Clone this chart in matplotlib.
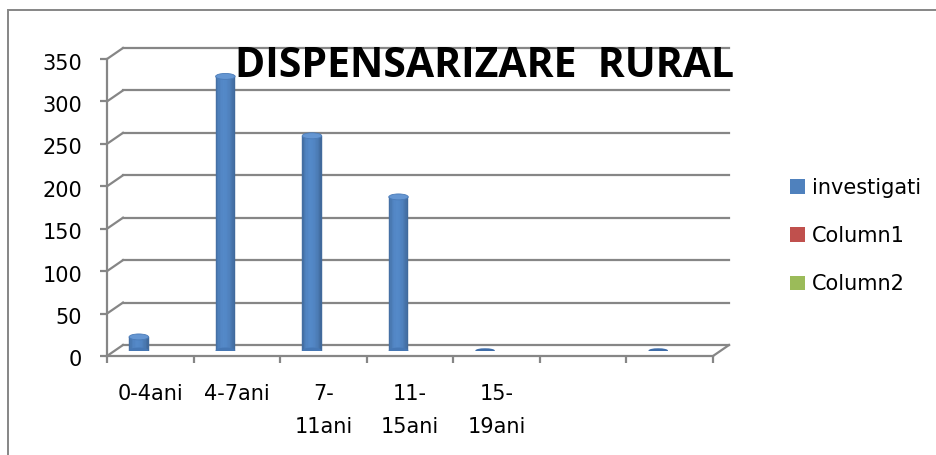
import numpy as np
import matplotlib
matplotlib.use("Agg")
import matplotlib.pyplot as plt
from matplotlib.patches import Patch, Ellipse, Rectangle
from matplotlib.lines import Line2D
from matplotlib.transforms import IdentityTransform, ScaledTranslation
from matplotlib.colors import to_rgb

# ---- data ----
categories = ["0-4ani", "4-7ani", "7-\n11ani", "11-\n15ani", "15-\n19ani", "", ""]
investigati = [16, 323, 253, 181, 0, np.nan, 0]
series_names = ["investigati", "Column1", "Column2"]
series_colors = ["#4F81BD", "#C0504D", "#9BBB59"]
y_ticks = [0, 50, 100, 150, 200, 250, 300, 350]
title = "DISPENSARIZARE  RURAL"

# ---- layout (pixels) ----
W, H = 936, 455
fig = plt.figure(figsize=(W / 100, H / 100), dpi=100)
plt.rcParams['font.family'] = ['DejaVu Sans']

def frac(x0, ytop, x1, ybot):
    return [x0 / W, (H - ybot) / H, (x1 - x0) / W, (ybot - ytop) / H]

GRID = "#868686"
LW = 1.6
FS = 15
n = len(categories)
xlim = (-0.5, n - 0.5)
ylim = (0, 350)

# outer frame
fig.add_artist(Rectangle((8 / W, -0.1), 1.2, 1.1 - 10 / H, transform=fig.transFigure,
                         fill=False, edgecolor=GRID, linewidth=1.4))

# back wall
ax_back = fig.add_axes(frac(123, 48, 729, 345))
ax_back.set_xlim(*xlim); ax_back.set_ylim(*ylim)
ax_back.patch.set_alpha(0)
for s in ax_back.spines.values():
    s.set_visible(False)
ax_back.set_yticks(y_ticks)
ax_back.set_xticks([])
ax_back.tick_params(axis='y', length=0, labelleft=False)
ax_back.grid(axis='y', color=GRID, linewidth=LW)
for gl in ax_back.get_ygridlines():
    gl.set_clip_on(False)

# middle plane (bars)
ax_mid = fig.add_axes(frac(115, 53.5, 721, 350.5))
ax_mid.set_xlim(*xlim); ax_mid.set_ylim(*ylim)
ax_mid.axis('off')

x = np.arange(n)
bw = 0.225
vals = np.array(investigati, dtype=float)
left = x - 1.5 * bw
base = np.array(to_rgb(series_colors[0]))
ns = 14
for k in range(ns):
    t = (k + 0.5) / ns
    f = 0.76 + 0.36 * np.sin(np.pi * t) ** 0.6 * (1 - 0.35 * t)
    c = np.clip(base * f, 0, 1)
    ax_mid.bar(left + k * bw / ns, np.where(vals > 0, vals, np.nan), width=bw / ns,
               align='edge', color=c, edgecolor=c, linewidth=0.3)
eh = 7.0
for xi, v in zip(x, vals):
    if np.isnan(v):
        continue
    cx = xi - bw
    if v > 0:
        ax_mid.add_patch(Ellipse((cx, 0), bw, eh, facecolor="#4677B4", edgecolor="none", zorder=1.5))
        ax_mid.add_patch(Ellipse((cx, v), bw, eh, facecolor="#6596D2", edgecolor="#4A7BB8",
                                 linewidth=0.6, zorder=3))
    else:
        ax_mid.add_patch(Ellipse((cx, v), bw, eh * 0.75, facecolor="#3E6CA8", edgecolor="none", zorder=3))

# front plane (axes)
ax_front = fig.add_axes(frac(107, 59, 713, 356))
ax_front.set_xlim(*xlim); ax_front.set_ylim(*ylim)
ax_front.patch.set_alpha(0)
for side in ("top", "right"):
    ax_front.spines[side].set_visible(False)
for side in ("left", "bottom"):
    ax_front.spines[side].set_color(GRID)
    ax_front.spines[side].set_linewidth(LW)
ax_front.set_yticks(y_ticks)
ax_front.set_yticklabels([str(v) for v in y_ticks], fontsize=FS)
ax_front.tick_params(axis='y', direction='out', length=5, width=LW, color=GRID, pad=13)
shift = ScaledTranslation(0, -2.5 / 100, fig.dpi_scale_trans)
for lab in ax_front.get_yticklabels():
    lab.set_transform(lab.get_transform() + shift)
ax_front.set_xticks(np.arange(n + 1) - 0.5)
ax_front.set_xticklabels([])
ax_front.tick_params(axis='x', which='major', direction='out', length=5, width=LW, color=GRID)
ax_front.set_xticks(x, minor=True)
ax_front.set_xticklabels(categories, minor=True, fontsize=FS, linespacing=1.8, va='top')
ax_front.tick_params(axis='x', which='minor', length=0, pad=20)

# side-wall diagonals
fig.canvas.draw()
for v in y_ticks:
    pf = ax_front.transData.transform((xlim[0], v))
    pb = ax_back.transData.transform((xlim[0], v))
    fig.add_artist(Line2D([pf[0], pb[0]], [pf[1], pb[1]], transform=IdentityTransform(),
                          color=GRID, linewidth=LW))
pf = ax_front.transData.transform((xlim[1], 0))
pb = ax_back.transData.transform((xlim[1], 0))
fig.add_artist(Line2D([pf[0], pb[0]], [pf[1], pb[1]], transform=IdentityTransform(),
                      color=GRID, linewidth=LW))

# legend
handles = [Patch(facecolor=c, edgecolor='none') for c in series_colors]
fig.legend(handles, series_names, loc='upper left', bbox_to_anchor=(790 / W, 1 - 178 / H),
           frameon=False, fontsize=FS, handlelength=0.72, handleheight=0.72,
           handletextpad=0.35, labelspacing=1.35, borderpad=0, borderaxespad=0)

# title
fig.text(485 / W, 1 - 77 / H, title, ha='center', va='baseline', fontsize=29.5,
         fontweight='bold', family=['Open Sans', 'DejaVu Sans'])

fig.savefig("out.png", dpi=100)
